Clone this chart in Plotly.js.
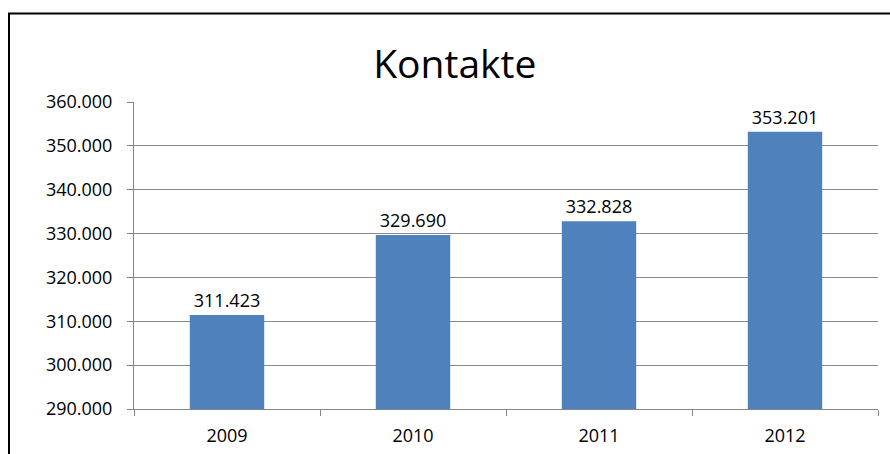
<!DOCTYPE html>
<html>
<head>
<meta charset="utf-8">
<script src="https://cdn.plot.ly/plotly-3.0.1.min.js"></script>
<style>
html,body{margin:0;padding:0;background:#fff;}
#chart{width:890px;height:454px;}
</style>
</head>
<body>
<div id="chart"></div>
<script>
var categories = ["2009", "2010", "2011", "2012"];
var contacts = [311423, 329690, 332828, 353201];
var chartTitle = "Kontakte";

var L = 134, R = 878, T = 102, B = 409, W = 890, H = 454;
function px(x){ return (x - L) / (R - L); }
function py(y){ return (B - y) / (B - T); }
var FONT = "Open Sans, Noto Sans, sans-serif";

var trace = {
  type: "bar",
  x: categories,
  y: contacts,
  marker: {color: "#4F81BD"},
  width: 0.4,
  text: contacts,
  texttemplate: "%{y:,.0f}",
  textposition: "outside",
  cliponaxis: false,
  textfont: {family: FONT, size: 18, color: "#000"},
  hoverinfo: "skip"
};

var layout = {
  width: W, height: H,
  margin: {l: L, r: W - R, t: T, b: H - B, pad: 0},
  paper_bgcolor: "#fff",
  plot_bgcolor: "#fff",
  separators: ",.",
  showlegend: false,
  title: {
    text: chartTitle,
    font: {family: FONT, size: 39, color: "#000"},
    x: 0.511, xanchor: "center",
    y: 1 - 64/H, yanchor: "middle"
  },
  xaxis: {
    type: "category",
    tickson: "boundaries",
    ticks: "outside",
    ticklen: 6,
    tickcolor: "#868686",
    showline: true,
    linecolor: "#868686",
    linewidth: 1,
    showgrid: false,
    zeroline: false,
    ticklabelstandoff: 10,
    tickfont: {family: FONT, size: 18, color: "#000"},
    fixedrange: true
  },
  yaxis: {
    range: [290000, 360000],
    dtick: 10000,
    tick0: 290000,
    tickformat: ",.0f",
    ticks: "outside",
    ticklen: 6,
    tickcolor: "#868686",
    showline: true,
    linecolor: "#868686",
    linewidth: 1,
    showgrid: true,
    gridcolor: "#8a8a8a",
    gridwidth: 1,
    zeroline: false,
    ticklabelstandoff: 11,
    tickfont: {family: FONT, size: 18, color: "#000"},
    fixedrange: true
  },
  shapes: [
    {type: "line", xref: "paper", yref: "paper", x0: px(9), x1: px(9), y0: py(13), y1: py(460),
     line: {color: "#000", width: 2}},
    {type: "line", xref: "paper", yref: "paper", x0: px(8), x1: px(895), y0: py(13.5), y1: py(13.5),
     line: {color: "#000", width: 2}}
  ]
};

Plotly.newPlot("chart", [trace], layout, {displayModeBar: false, staticPlot: true});
</script>
</body>
</html>
